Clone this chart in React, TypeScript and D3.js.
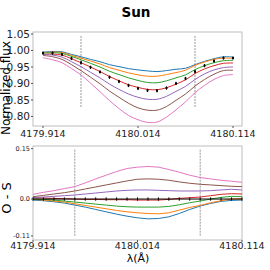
import * as d3 from 'd3';

// wavelength grid of the observed points (Å)
const wave = [
  4179.914, 4179.924, 4179.934, 4179.944, 4179.954, 4179.964, 4179.974,
  4179.984, 4179.994, 4180.004, 4180.014, 4180.024, 4180.034, 4180.044,
  4180.054, 4180.064, 4180.074, 4180.084, 4180.094, 4180.104, 4180.114,
];

// observed normalized flux
const obsFlux = [
  0.992, 0.992, 0.988, 0.976, 0.963, 0.949, 0.935, 0.919, 0.906, 0.894, 0.885,
  0.879, 0.878, 0.886, 0.900, 0.915, 0.936, 0.954, 0.968, 0.977, 0.977,
];
const obsErr = 0.005;

// O - S residuals for each synthetic abundance
const seriesNames = ['a1', 'a2', 'a3', 'a4', 'a5', 'a6', 'a7'];
const seriesColors = ['#1f77b4', '#ff7f0e', '#2ca02c', '#d62728', '#9467bd', '#8c564b', '#e377c2'];
const oms1 = [-0.003, -0.005, -0.008, -0.012, -0.018, -0.024, -0.031, -0.038, -0.045, -0.051, -0.056, -0.059, -0.058, -0.053, -0.043, -0.031, -0.021, -0.013, -0.007, -0.004, -0.003];
const oms2 = [-0.001, -0.003, -0.006, -0.009, -0.014, -0.019, -0.024, -0.029, -0.034, -0.038, -0.041, -0.043, -0.044, -0.041, -0.033, -0.025, -0.019, -0.011, -0.005, 0.0, 0.001];
const oms3 = [0.0, -0.001, -0.003, -0.006, -0.009, -0.012, -0.015, -0.018, -0.021, -0.023, -0.024, -0.024, -0.024, -0.022, -0.017, -0.011, -0.006, 0.0, 0.005, 0.008, 0.007];
const oms4 = [0.004, 0.003, 0.002, 0.001, 0.0, -0.001, -0.001, -0.002, -0.002, -0.002, -0.003, -0.003, -0.003, -0.001, 0.002, 0.004, 0.006, 0.010, 0.014, 0.016, 0.015];
const oms5 = [0.004, 0.006, 0.008, 0.010, 0.012, 0.015, 0.018, 0.021, 0.024, 0.026, 0.027, 0.027, 0.026, 0.025, 0.024, 0.024, 0.024, 0.025, 0.027, 0.029, 0.027];
const oms6 = [0.007, 0.011, 0.015, 0.019, 0.024, 0.030, 0.036, 0.042, 0.048, 0.054, 0.059, 0.060, 0.059, 0.056, 0.051, 0.047, 0.044, 0.042, 0.040, 0.038, 0.037];
const oms7 = [0.014, 0.020, 0.025, 0.031, 0.037, 0.048, 0.060, 0.071, 0.082, 0.091, 0.095, 0.097, 0.095, 0.088, 0.080, 0.071, 0.064, 0.060, 0.056, 0.053, 0.050];
const residuals = [oms1, oms2, oms3, oms4, oms5, oms6, oms7];

// line mask limits (dashed)
const maskLimits = [4179.954, 4180.074];

const xTicks = [4179.914, 4180.014, 4180.114];
const fluxTicks = [1.05, 1.0, 0.95, 0.9, 0.85, 0.8];
const omsTicks = [0.15, 0.0, -0.11];

const font = 'DejaVu Sans, sans-serif';

const App = () => {
  // top panel
  const xTop = d3.scaleLinear().domain([4179.914, 4180.114]).range([43, 233]);
  const yTop = d3.scaleLinear().domain([0.771, 1.056]).range([126, 32]);
  // bottom panel
  const xBot = d3.scaleLinear().domain([4179.914, 4180.114]).range([33, 242]);
  const yBot = d3.scaleLinear().domain([-0.122, 0.158]).range([240, 146]);

  const synth = residuals.map(r => r.map((d, i) => obsFlux[i] - d));

  const topLine = d3.line<number>()
    .x((d, i) => xTop(wave[i]))
    .y(d => yTop(d))
    .curve(d3.curveCatmullRom);

  const botLine = d3.line<number>()
    .x((d, i) => xBot(wave[i]))
    .y(d => yBot(d));

  const zeros = wave.map(() => 0);

  return (
    <svg width={270} height={270} style={{ position: 'absolute', left: 0, top: 0, background: '#fff' }} fontFamily={font}>
      <text x={136} y={17} textAnchor="middle" fontSize={13.5} fontWeight="bold">Sun</text>

      {/* top panel */}
      <rect x={33} y={32} width={209} height={94} fill="none" stroke="#bdbdbd" strokeWidth={1} />
      {maskLimits.map(w => (
        <line key={w} x1={xTop(w)} x2={xTop(w)} y1={yTop(1.044)} y2={yTop(0.826)}
          stroke="#999" strokeWidth={1} strokeDasharray="2,1" />
      ))}
      {synth.map((s, k) => (
        <path key={seriesNames[k]} d={topLine(s) || ''} fill="none" stroke={seriesColors[k]} strokeWidth={1} />
      ))}
      {obsFlux.map((v, i) => (
        <g key={i}>
          <line x1={xTop(wave[i])} x2={xTop(wave[i])} y1={yTop(v - obsErr)} y2={yTop(v + obsErr)} stroke="#000" strokeWidth={1} />
          <rect x={xTop(wave[i]) - 1} y={yTop(v) - 1} width={2} height={2} fill="#000" />
        </g>
      ))}
      {fluxTicks.map(t => (
        <g key={t}>
          <line x1={31} x2={33} y1={yTop(t)} y2={yTop(t)} stroke="#555" />
          <text x={30} y={yTop(t)} dy="0.35em" textAnchor="end" fontSize={10.5} fill="#222">{t.toFixed(2)}</text>
        </g>
      ))}
      {xTicks.map(t => (
        <g key={t}>
          <line x1={xTop(t)} x2={xTop(t)} y1={126} y2={128} stroke="#555" />
          <text x={xTop(t)} y={136.5} textAnchor="middle" fontSize={9.5} fill="#222">{t.toFixed(3)}</text>
        </g>
      ))}
      <text transform="translate(10,88) rotate(-90)" textAnchor="middle" fontSize={12}>Normalized flux</text>

      {/* bottom panel */}
      <rect x={33} y={146} width={209} height={94} fill="none" stroke="#bdbdbd" strokeWidth={1} />
      {maskLimits.map(w => (
        <line key={w} x1={xBot(w)} x2={xBot(w)} y1={yBot(0.147)} y2={yBot(-0.111)}
          stroke="#999" strokeWidth={1} strokeDasharray="2,1" />
      ))}
      {residuals.map((r, k) => (
        <path key={seriesNames[k]} d={botLine(r) || ''} fill="none" stroke={seriesColors[k]} strokeWidth={1} />
      ))}
      <path d={botLine(zeros) || ''} fill="none" stroke="#000" strokeWidth={1} />
      {zeros.map((v, i) => (
        <line key={i} x1={xBot(wave[i])} x2={xBot(wave[i])} y1={yBot(v - obsErr)} y2={yBot(v + obsErr)} stroke="#000" strokeWidth={1} />
      ))}
      {omsTicks.map(t => (
        <g key={t}>
          <line x1={31} x2={33} y1={yBot(t)} y2={yBot(t)} stroke="#555" />
          <text x={30} y={yBot(t)} dy="0.35em" textAnchor="end" fontSize={6.5} fill="#222">
            {t === 0 ? '0.0' : t.toFixed(2)}
          </text>
        </g>
      ))}
      {xTicks.map(t => (
        <g key={t}>
          <line x1={xBot(t)} x2={xBot(t)} y1={240} y2={242} stroke="#555" />
          <text x={xBot(t)} y={249} textAnchor="middle" fontSize={9.5} fill="#222">{t.toFixed(3)}</text>
        </g>
      ))}
      <text transform="translate(11,198) rotate(-90)" textAnchor="middle" fontSize={13}>O - S</text>
      <text x={138} y={262} textAnchor="middle" fontSize={11}>λ(Å)</text>
    </svg>
  );
};

export default App;
